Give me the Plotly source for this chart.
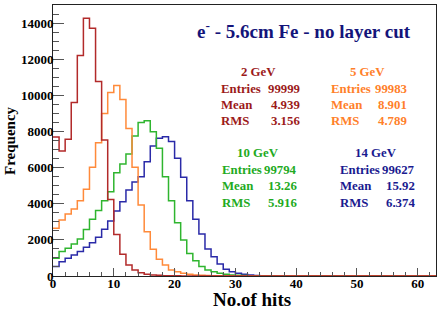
import plotly.graph_objects as go
import numpy as np

# ---------------- data ----------------
x_min, x_max = 0, 63          # histogram range, 1 hit per bin
y_max = 15000

counts_2gev = [7700, 6920, 7570, 9600, 12200, 14270, 13720, 10760, 7530, 4230,
               2300, 1200, 610, 330, 180, 100, 60, 35, 20, 12, 8, 5, 3, 2, 1]
counts_5gev = [2640, 3100, 3430, 3710, 4170, 4800, 6020, 7380, 8990, 10150,
               10550, 9770, 8160, 6020, 3930, 2450, 1480, 925, 610, 330,
               240, 150, 100, 60, 40, 25, 15, 10, 6, 4, 2, 1]
counts_10gev = [980, 1350, 1530, 1770, 2050, 2580, 3140, 3620, 4170, 4670,
                5720, 6200, 6750, 7750, 8490, 8600, 7990, 7070, 5500, 4170,
                2950, 1990, 1250, 850, 520, 330, 240, 150, 100, 60,
                40, 25, 15, 10, 6, 4, 2, 1]
counts_14gev = [520, 790, 980, 1160, 1350, 1590, 1840, 2140, 2590, 3050,
                3600, 4110, 4760, 5200, 5500, 6330, 7200, 7620, 7710, 7440,
                6520, 5460, 4170, 3140, 2330, 1500, 1070, 660, 370, 240,
                150, 90, 50, 30, 20, 12, 8, 5, 3, 2, 1]

series_names = ["2 GeV", "5 GeV", "10 GeV", "14 GeV"]
entries = ["99999", "99983", "99794", "99627"]
means = ["4.939", "8.901", "13.26", "15.92"]
rms_vals = ["3.156", "4.789", "5.916", "6.374"]

title_text = "e<sup>-</sup> - 5.6cm Fe - no layer cut"
x_title = "No.of hits"
y_title = "Frequency"

# ---------------- style ----------------
line_colors = ["#b22a2a", "#ff8a3a", "#2fb52f", "#2a2aa8"]
text_colors = ["#9c1a1a", "#ff7f2a", "#22aa22", "#1a1a90"]
FONT = "Liberation Serif"

W, H = 441, 315
L, R, T, B = 53, 5, 5, 39
pw, ph = W - L - R, H - T - B


def px(x):
    return (x - L) / pw


def py(y):
    return (H - B - y) / ph


fig = go.Figure()
all_counts = [counts_2gev, counts_5gev, counts_10gev, counts_14gev]
edges = np.arange(x_min, x_max + 1)
order = [3, 2, 1, 0]
for i in order:
    c = list(all_counts[i]) + [0] * (x_max - x_min - len(all_counts[i]))
    fig.add_trace(go.Scatter(
        x=edges, y=c + [c[-1]], mode="lines", line_shape="hv",
        line=dict(color=line_colors[i], width=1.5),
        name=series_names[i], showlegend=False, hoverinfo="skip"))

tickfont = dict(family=FONT, size=13, color="black", weight="bold")
fig.update_xaxes(range=[x_min, x_max], tick0=0, dtick=10, ticks="inside",
                 ticklen=8, tickcolor="#555", tickwidth=1, tickformat="d",
                 minor=dict(dtick=2, ticks="inside", ticklen=4, tickcolor="#555"),
                 showline=True, linecolor="#222", linewidth=1, mirror=True,
                 showgrid=False, zeroline=False, tickfont=tickfont,
                 ticklabelstandoff=-5, automargin=False)
fig.update_yaxes(range=[0, y_max], tick0=0, dtick=2000, ticks="inside",
                 ticklen=11, tickcolor="#555", tickwidth=1, tickformat="d",
                 minor=dict(dtick=500, ticks="inside", ticklen=6, tickcolor="#555"),
                 showline=True, linecolor="#222", linewidth=1, mirror=True,
                 showgrid=False, zeroline=False, tickfont=tickfont,
                 ticklabelstandoff=-4, automargin=False)

ann = []
ann.append(dict(x=px(304), y=py(30), text=title_text, showarrow=False,
                font=dict(family=FONT, size=19, color="#14147a", weight="bold"),
                xanchor="center", yanchor="middle"))
ann.append(dict(x=px(252), y=py(299), text=x_title, showarrow=False,
                font=dict(family=FONT, size=19, color="black", weight="bold"),
                xanchor="center", yanchor="middle"))
ann.append(dict(x=px(10), y=py(141), text=y_title,
                showarrow=False, textangle=-90,
                font=dict(family=FONT, size=15, color="black", weight="bold"),
                xanchor="center", yanchor="middle"))

# stat boxes: (title centre x, label left x, value right x, title y)
box_pos = [(258, 219, 302, 72), (367, 329, 409, 72),
           (258, 220, 299, 153), (376, 338, 417, 153)]
row_dy = [17, 33.5, 49.5]
sfont = 12.8
for i in range(4):
    cx, lx, rx, ty = box_pos[i]
    f = dict(family=FONT, size=sfont, color=text_colors[i], weight="bold")
    ann.append(dict(x=px(cx), y=py(ty), text=series_names[i], showarrow=False,
                    font=f, xanchor="center", yanchor="middle"))
    for lab, val, dy in zip(["Entries", "Mean", "RMS"],
                            [entries[i], means[i], rms_vals[i]], row_dy):
        ann.append(dict(x=px(lx), y=py(ty + dy), text=lab, showarrow=False,
                        font=f, xanchor="left", yanchor="middle"))
        ann.append(dict(x=px(rx), y=py(ty + dy), text=val, showarrow=False,
                        font=f, xanchor="right", yanchor="middle"))

for a in ann:
    a["xref"] = "paper"
    a["yref"] = "paper"

fig.update_layout(width=W, height=H, margin=dict(l=L, r=R, t=T, b=B),
                  paper_bgcolor="white", plot_bgcolor="white",
                  annotations=ann, showlegend=False)

fig.write_html("out.html", config={"displayModeBar": False},
               post_script="document.body.style.margin='0px';"
                           "document.body.style.overflow='hidden';")
